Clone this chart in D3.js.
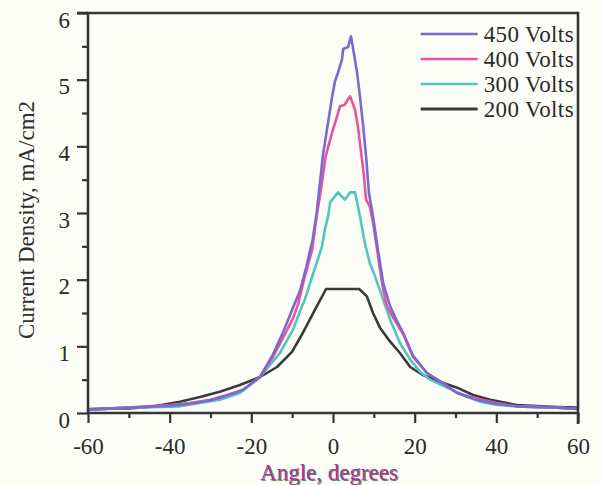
<!DOCTYPE html>
<html>
<head>
<meta charset="utf-8">
<script src="https://cdn.jsdelivr.net/npm/d3@7"></script>
<style>
  body { margin: 0; background: #fdfdf8; }
  svg text { font-family: "Liberation Serif", "Times New Roman", serif !important; }
</style>
</head>
<body>
<div id="chart"></div>
<script>
// values (angle in degrees, current density in mA/cm2)
var angles450 = [-60,-50,-40,-35,-30,-26,-22,-18,-14.7,-12.3,-9.8,-8,-6.5,-5,-4,-3.2,-2.5,-1.2,-0.2,0.5,1.2,2.2,2.5,3.7,4.4,5.1,5.9,6.6,7.4,8.1,8.8,9.8,11,12.3,14,15.5,17.2,19.6,23,27,30.4,35,40,45,55,60];
var values450 = [0.05,0.08,0.11,0.14,0.19,0.26,0.35,0.53,0.88,1.2,1.58,1.85,2.2,2.6,3.0,3.45,3.85,4.36,4.75,4.98,5.1,5.3,5.46,5.49,5.65,5.4,5.1,4.75,4.3,3.85,3.3,2.95,2.45,1.95,1.6,1.4,1.2,0.86,0.6,0.44,0.3,0.2,0.14,0.1,0.08,0.06];

var angles400 = [-60,-50,-40,-35,-30,-26,-22,-17.9,-14.7,-12.3,-9.8,-8.6,-6.9,-5.1,-4,-2.7,-1.8,-0.7,0,1,1.7,2.8,4.2,5.4,6.1,6.8,7.5,8.1,9,9.8,10.8,11.5,12.3,13.2,15,17.2,19.6,23,27,30.4,35,40,45,55,60];
var values400 = [0.05,0.08,0.12,0.15,0.2,0.27,0.35,0.54,0.84,1.12,1.42,1.62,2.05,2.45,2.95,3.45,3.85,4.1,4.25,4.45,4.6,4.62,4.75,4.55,4.3,3.95,3.6,3.2,3.1,2.86,2.45,2.15,1.85,1.6,1.4,1.18,0.84,0.6,0.45,0.3,0.22,0.15,0.1,0.08,0.06];

var angles300 = [-60,-50,-42,-37.5,-32.6,-27.7,-22.8,-17.9,-15.4,-13,-9.8,-7.6,-6.9,-5.6,-4,-2.7,-2,-1.2,-0.7,1.2,2.9,4.2,5.4,6.6,7.8,9,10.3,12,14,16.4,18.9,21.3,23.8,27.9,31.9,36,40.2,45,55,60];
var values300 = [0.05,0.08,0.09,0.1,0.15,0.2,0.3,0.54,0.72,0.9,1.25,1.6,1.7,1.95,2.25,2.5,2.75,2.95,3.16,3.31,3.2,3.31,3.31,2.95,2.55,2.25,2.05,1.75,1.4,1.05,0.8,0.62,0.5,0.38,0.27,0.17,0.12,0.1,0.08,0.06];

var angles200 = [-60,-50,-45,-42,-37.5,-32.6,-27.7,-22.8,-17.9,-13.7,-10,-7.4,-4.4,-1.7,6.4,8.3,9.8,11.5,14,16.4,18.9,22,26.2,30.4,34.3,38.5,42.6,45,55,60];
var values200 = [0.06,0.07,0.09,0.12,0.17,0.24,0.32,0.42,0.54,0.69,0.92,1.2,1.55,1.86,1.86,1.75,1.5,1.28,1.07,0.9,0.69,0.57,0.47,0.38,0.27,0.2,0.15,0.12,0.09,0.08];

var seriesNames = ["450 Volts", "400 Volts", "300 Volts", "200 Volts"];
var seriesColors = ["#7a6ad0", "#e8559e", "#4fc6be", "#3a3a3a"];
var xTicks = [-60,-40,-20,0,20,40,60];
var yTicks = [0,1,2,3,4,5,6];

var series = [
  {name: seriesNames[0], color: seriesColors[0], a: angles450, v: values450},
  {name: seriesNames[1], color: seriesColors[1], a: angles400, v: values400},
  {name: seriesNames[2], color: seriesColors[2], a: angles300, v: values300},
  {name: seriesNames[3], color: seriesColors[3], a: angles200, v: values200}
];

var W = 602, H = 485,
    margin = {top: 13, right: 24, bottom: 72, left: 88},
    innerW = W - margin.left - margin.right,
    innerH = H - margin.top - margin.bottom,
    ink = "#353535",
    serif = "Liberation Serif";

var svg = d3.select("#chart").append("svg")
  .attr("width", W)
  .attr("height", H);

svg.append("rect").attr("width", W).attr("height", H).attr("fill", "#fdfdf8");

var g = svg.append("g")
  .attr("transform", "translate(" + margin.left + "," + margin.top + ")");

var x = d3.scaleLinear().domain([-60, 60]).range([0, innerW]);
var y = d3.scaleLinear().domain([0, 6]).range([innerH, 0]);

// curves, drawn back to front
var line = d3.line()
  .x(function(d) { return x(d[0]); })
  .y(function(d) { return y(d[1]); });

series.slice().reverse().forEach(function(s) {
  var pts = s.a.map(function(a, i) { return [a, s.v[i]]; });
  g.append("path")
    .datum(pts)
    .attr("fill", "none")
    .attr("stroke", s.color)
    .attr("stroke-width", 2.6)
    .attr("stroke-linejoin", "round")
    .attr("d", line);
});

// axes
var xAxis = g.append("g")
  .attr("transform", "translate(0," + innerH + ")")
  .call(d3.axisBottom(x).tickValues(d3.range(-60, 61, 10)).tickSize(10)
    .tickFormat(function(d) { return xTicks.indexOf(d) >= 0 ? String(d) : ""; }));
xAxis.selectAll(".tick line")
  .attr("y2", function(d) { return xTicks.indexOf(d) >= 0 ? 10 : 5; });

var yAxis = g.append("g")
  .call(d3.axisLeft(y).tickValues(d3.range(0, 6.01, 0.5)).tickSize(11)
    .tickFormat(function(d) { return yTicks.indexOf(d) >= 0 ? String(d) : ""; }));
yAxis.selectAll(".tick line")
  .attr("x2", function(d) { return yTicks.indexOf(d) >= 0 ? -11 : -6; });

[xAxis, yAxis].forEach(function(ax) {
  ax.attr("font-family", null).attr("font-size", null);
  ax.select(".domain").remove();
  ax.selectAll(".tick line").attr("stroke", ink).attr("stroke-width", 2.2);
  ax.selectAll(".tick text")
    .attr("fill", "#2a2a2a")
    .style("font-family", serif)
    .style("font-size", "23px");
});
xAxis.selectAll(".tick text").attr("y", 25).attr("dy", "0.71em");
yAxis.selectAll(".tick text").attr("x", -18).attr("dy", "0.62em");

// frame
g.append("path")
  .attr("fill", "none")
  .attr("stroke", ink)
  .attr("stroke-width", 2.6)
  .attr("d", "M" + x(-60) + "," + y(0) + "H" + x(60) + "V" + y(6) + "H" + x(-60) + "Z");
g.append("line")
  .attr("x1", x(-60) - 11).attr("x2", x(-60))
  .attr("y1", y(6)).attr("y2", y(6))
  .attr("stroke", ink).attr("stroke-width", 2.6);
g.append("line")
  .attr("x1", x(60)).attr("x2", x(60))
  .attr("y1", y(0)).attr("y2", y(0) + 11)
  .attr("stroke", ink).attr("stroke-width", 2.6);

// legend
var legend = g.append("g").attr("transform", "translate(" + (x(20) + 6) + ",21)");
series.forEach(function(s, i) {
  var row = legend.append("g").attr("transform", "translate(0," + (i * 25) + ")");
  row.append("line")
    .attr("x1", 0).attr("x2", 57)
    .attr("stroke", s.color)
    .attr("stroke-width", s.name === "200 Volts" ? 3 : 2.4);
  row.append("text")
    .attr("x", 63).attr("y", 8)
    .attr("fill", "#2a2a2a")
    .style("font-family", serif)
    .style("font-size", "23px")
    .style("letter-spacing", "0.4px")
    .text(s.name);
});

// axis titles
svg.append("text")
  .attr("transform", "translate(329,480)")
  .attr("text-anchor", "middle")
  .attr("fill", "#b2309e")
  .style("font-family", serif)
  .style("font-size", "23px")
  .style("text-shadow", "1px 1px 0 #3f9a4a")
  .text("Angle, degrees");

svg.append("text")
  .attr("transform", "translate(34,220) rotate(-90)")
  .attr("text-anchor", "middle")
  .attr("fill", "#2f2f2f")
  .style("font-family", serif)
  .style("font-size", "23px")
  .text("Current Density, mA/cm2");
</script>
</body>
</html>
